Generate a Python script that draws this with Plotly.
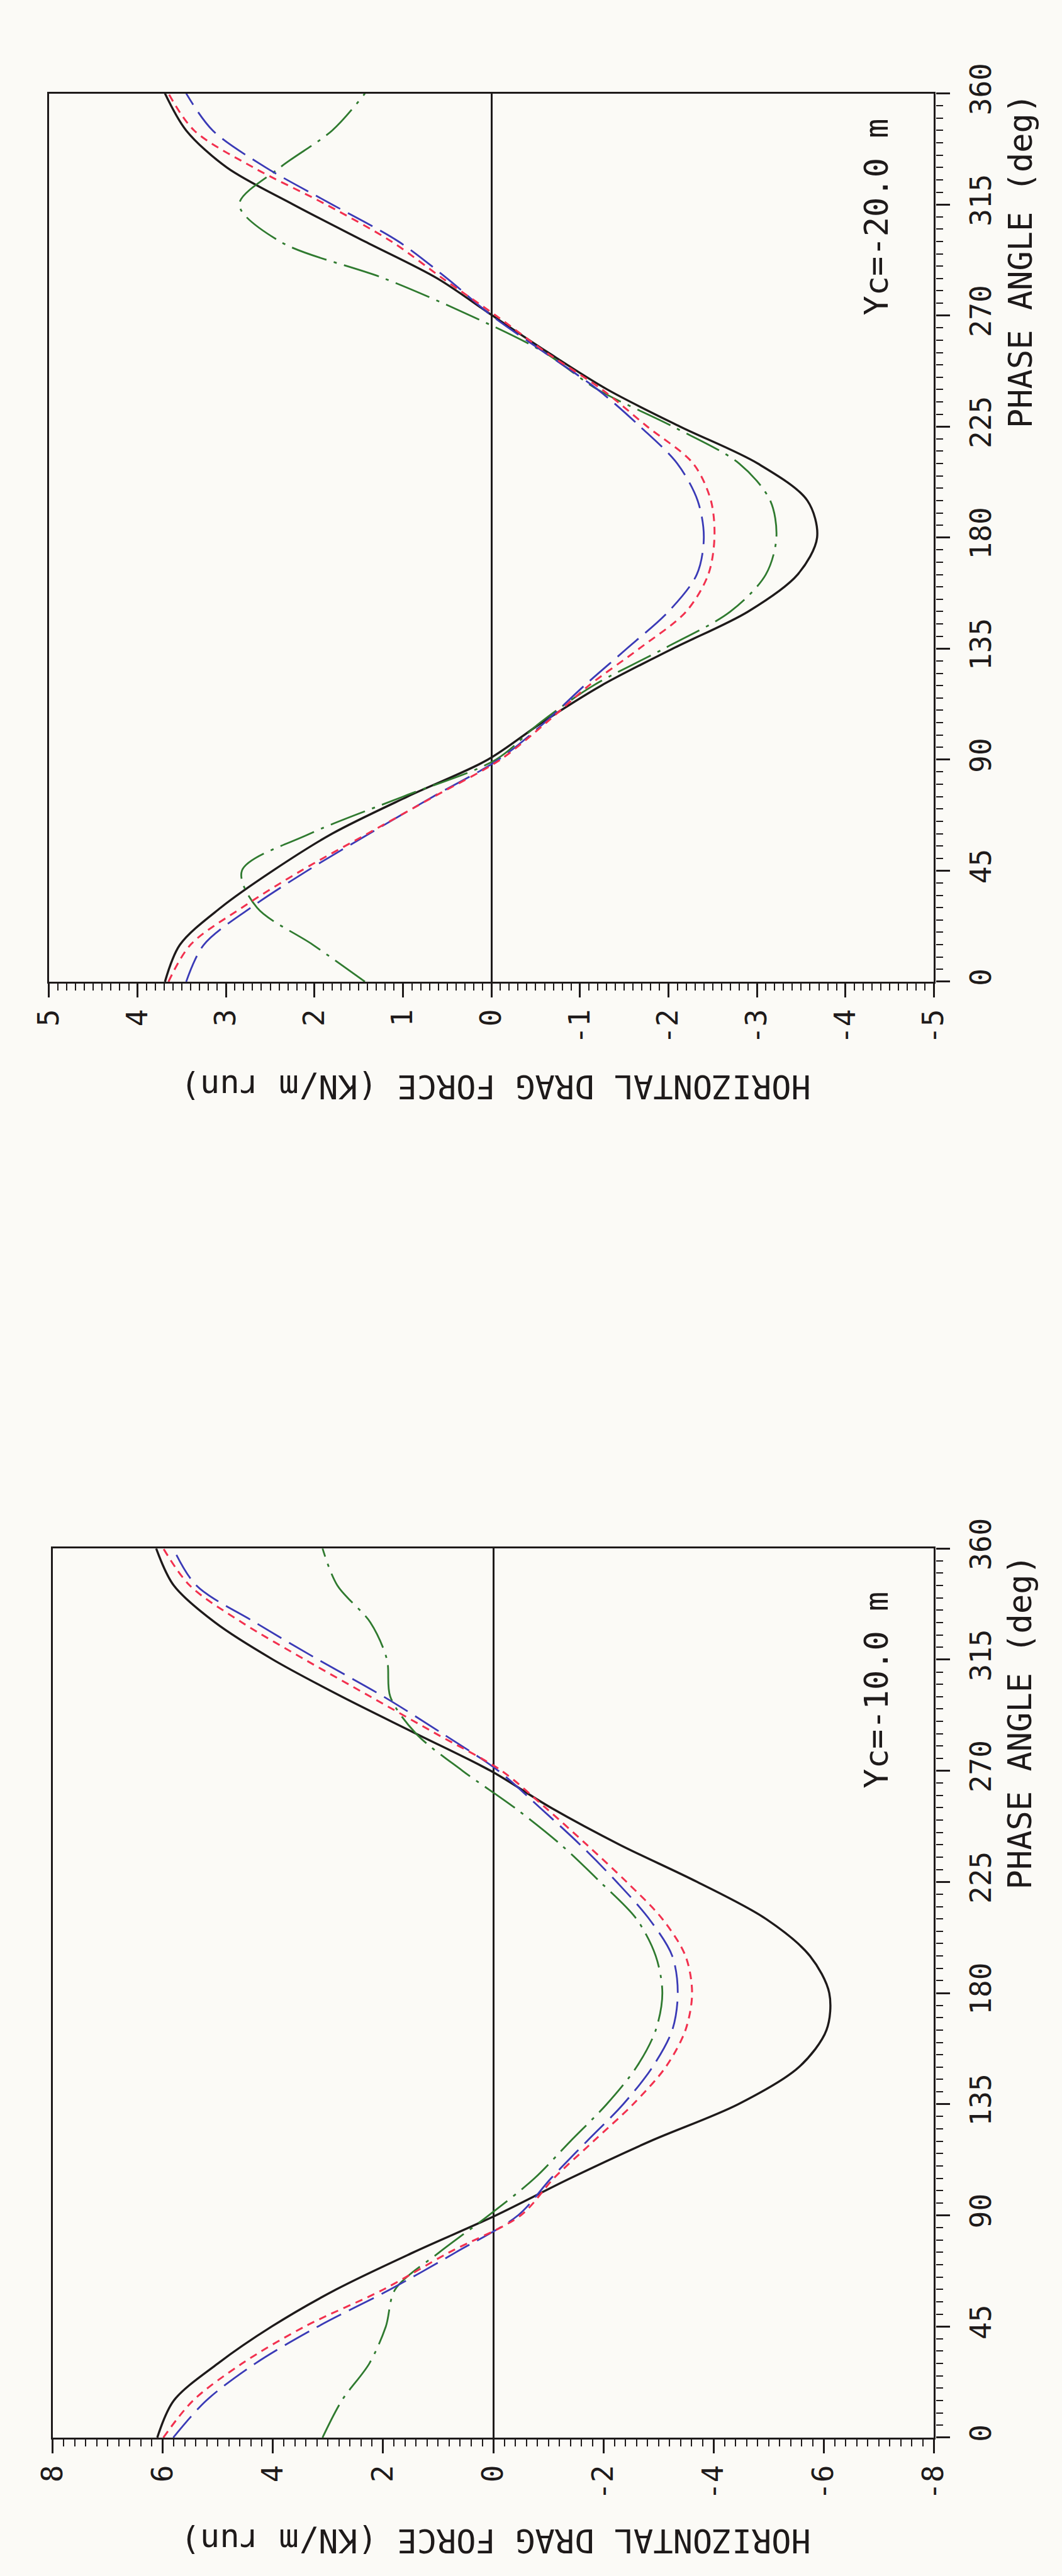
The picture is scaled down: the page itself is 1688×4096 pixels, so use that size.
import plotly.graph_objects as go

# Phase angle samples (deg)
PHASE = [0, 15, 30, 45, 60, 75, 90, 105, 120, 135, 150, 165, 180,
         195, 210, 225, 240, 255, 270, 285, 300, 315, 330, 345, 360]

# Horizontal drag force (KN/m run), Yc = -20.0 m
black_20 = [3.69, 3.52, 3.06, 2.47, 1.80, 0.95, 0.04, -0.57, -1.24, -2.05, -2.90, -3.46, -3.68,
            -3.57, -3.01, -2.13, -1.31, -0.64, -0.01, 0.61, 1.43, 2.24, 2.99, 3.45, 3.69]
red_20 = [3.65, 3.40, 2.82, 2.15, 1.40, 0.65, -0.10, -0.62, -1.10, -1.67, -2.20, -2.45, -2.52,
          -2.48, -2.28, -1.76, -1.25, -0.62, -0.05, 0.55, 1.13, 1.87, 2.69, 3.36, 3.65]
blue_20 = [3.45, 3.25, 2.72, 2.08, 1.38, 0.66, -0.08, -0.60, -1.05, -1.53, -2.00, -2.32, -2.40,
           -2.33, -2.10, -1.68, -1.20, -0.60, 0.00, 0.50, 1.05, 1.80, 2.55, 3.15, 3.45]
green_20 = [1.43, 2.02, 2.65, 2.82, 2.05, 1.00, -0.05, -0.55, -1.15, -1.95, -2.70, -3.10, -3.22,
            -3.15, -2.80, -2.05, -1.20, -0.60, 0.24, 1.21, 2.39, 2.85, 2.39, 1.80, 1.43]

# Horizontal drag force (KN/m run), Yc = -10.0 m
black_10 = [6.10, 5.80, 5.00, 4.02, 2.85, 1.45, -0.05, -1.40, -2.85, -4.45, -5.55, -6.05, -6.10,
            -5.75, -4.95, -3.70, -2.30, -1.05, 0.05, 1.40, 2.75, 4.00, 5.05, 5.80, 6.12]
red_10 = [5.99, 5.45, 4.56, 3.42, 1.99, 0.80, -0.50, -1.10, -1.82, -2.54, -3.13, -3.49, -3.61,
          -3.49, -3.07, -2.42, -1.70, -0.95, -0.15, 1.04, 2.23, 3.42, 4.56, 5.51, 5.99]
blue_10 = [5.81, 5.21, 4.32, 3.18, 1.87, 0.68, -0.45, -1.05, -1.70, -2.36, -2.89, -3.25, -3.35,
           -3.25, -2.83, -2.24, -1.58, -0.85, -0.09, 0.92, 1.99, 3.18, 4.32, 5.39, 5.81]
green_10 = [3.10, 2.75, 2.25, 1.95, 1.78, 0.98, 0.08, -0.75, -1.40, -2.06, -2.60, -2.95, -3.07,
            -2.95, -2.60, -1.94, -1.23, -0.39, 0.56, 1.40, 1.87, 1.93, 2.23, 2.83, 3.10]

# Axis ticks
FORCE_TICKS_20 = [5, 4, 3, 2, 1, 0, -1, -2, -3, -4, -5]
FORCE_LABELS_20 = ["5", "4", "3", "2", "1", "0", "-1", "-2", "-3", "-4", "-5"]
FORCE_TICKS_10 = [8, 6, 4, 2, 0, -2, -4, -6, -8]
FORCE_LABELS_10 = ["8", "6", "4", "2", "0", "-2", "-4", "-6", "-8"]
PHASE_TICKS = [0, 45, 90, 135, 180, 225, 270, 315, 360]
PHASE_LABELS = ["0", "45", "90", "135", "180", "225", "270", "315", "360"]

FORCE_TITLE = "HORIZONTAL DRAG FORCE (KN/m run)"
PHASE_TITLE = "PHASE ANGLE (deg)"
CASES = ["Yc=-20.0 m", "Yc=-10.0 m"]

W, H = 1688, 4096
INK = "#1e1a1a"
BG = "#fbfaf6"
FONT = "DejaVu Sans Mono, Liberation Mono, monospace"

STYLES = [
    dict(color=INK, width=3.4, dash="solid"),
    dict(color="#2f7a2f", width=2.8, dash="58px,12px,5px,12px"),
    dict(color="#3a3ab6", width=2.8, dash="44px,14px"),
    dict(color="#f2304e", width=3.0, dash="12px,9px"),
]

fig = go.Figure()

panels = [
    ("x", "y", [black_20, green_20, blue_20, red_20]),
    ("x2", "y2", [black_10, green_10, blue_10, red_10]),
]
for xa, ya, series in panels:
    for vals, st in zip(series, STYLES):
        fig.add_trace(go.Scatter(
            x=vals, y=PHASE, xaxis=xa, yaxis=ya, mode="lines",
            line=dict(color=st["color"], width=st["width"], dash=st["dash"],
                      shape="spline", smoothing=0.9),
            showlegend=False, hoverinfo="skip"))


def px_x(v):
    return v / W


def px_y(v):
    return 1 - v / H


def force_axis(rng, ticks, labels, minor, left, right, anchor):
    return dict(
        domain=[px_x(left), px_x(right)], range=rng, anchor=anchor,
        tickmode="array", tickvals=ticks, ticktext=labels, tickangle=-90,
        ticks="outside", ticklen=22, tickwidth=2.6, tickcolor=INK,
        tickfont=dict(family=FONT, size=46, color=INK),
        showline=True, linecolor=INK, linewidth=3.4, mirror=True,
        zeroline=True, zerolinecolor=INK, zerolinewidth=3,
        showgrid=False,
        minor=dict(dtick=minor, tick0=0, ticks="outside", ticklen=11,
                   tickwidth=2.4, tickcolor=INK, showgrid=False),
    )


def phase_axis(top, bottom, anchor):
    return dict(
        domain=[px_y(bottom), px_y(top)], range=[0, 360], anchor=anchor, side="right",
        tickmode="array", tickvals=PHASE_TICKS, ticktext=PHASE_LABELS, tickangle=-90,
        ticks="outside", ticklen=22, tickwidth=2.6, tickcolor=INK, ticklabelstandoff=10,
        tickfont=dict(family=FONT, size=46, color=INK),
        showline=True, linecolor=INK, linewidth=3.4, mirror=True,
        zeroline=False, showgrid=False,
        minor=dict(dtick=5, tick0=0, ticks="outside", ticklen=11,
                   tickwidth=2.4, tickcolor=INK, showgrid=False),
    )


layout_panels = [
    # (left, right, top, bottom) in page pixels
    (51.6, 1504.5, 102.0, 1533.5),
    (57.5, 1504.5, 2447.0, 3880.0),
]

fig.update_layout(
    width=W, height=H, margin=dict(l=0, r=0, t=0, b=0),
    paper_bgcolor=BG, plot_bgcolor=BG, showlegend=False,
    xaxis=force_axis([5, -5], FORCE_TICKS_20, FORCE_LABELS_20, 0.1,
                     layout_panels[0][0], layout_panels[0][1], "y"),
    yaxis=phase_axis(layout_panels[0][2], layout_panels[0][3], "x"),
    xaxis2=force_axis([8, -8], FORCE_TICKS_10, FORCE_LABELS_10, 0.2,
                      layout_panels[1][0], layout_panels[1][1], "y2"),
    yaxis2=phase_axis(layout_panels[1][2], layout_panels[1][3], "x2"),
)

# Titles and case labels, turned with the plot
title_rows = [1703, 4047]
case_spans = [(140, 495), (2514, 2837)]
phase_title_top = [100, 2455]
for i, (left, right, top, bottom) in enumerate(layout_panels):
    fig.add_annotation(
        text=FORCE_TITLE, xref="paper", yref="paper",
        x=px_x(785), y=px_y(title_rows[i]), xanchor="center", yanchor="middle",
        textangle=180, showarrow=False, font=dict(family=FONT, size=52, color=INK))
    fig.add_annotation(
        text=PHASE_TITLE, xref="paper", yref="paper",
        x=px_x(1646), y=px_y(phase_title_top[i]), xanchor="center", yanchor="top",
        textangle=-90, showarrow=False, font=dict(family=FONT, size=52, color=INK))
    fig.add_annotation(
        text=CASES[i], xref="paper", yref="paper",
        x=px_x(1410), y=px_y(case_spans[i][0]), xanchor="center", yanchor="top",
        textangle=-90, showarrow=False, font=dict(family=FONT, size=52, color=INK))

fig.write_html("out.html")
